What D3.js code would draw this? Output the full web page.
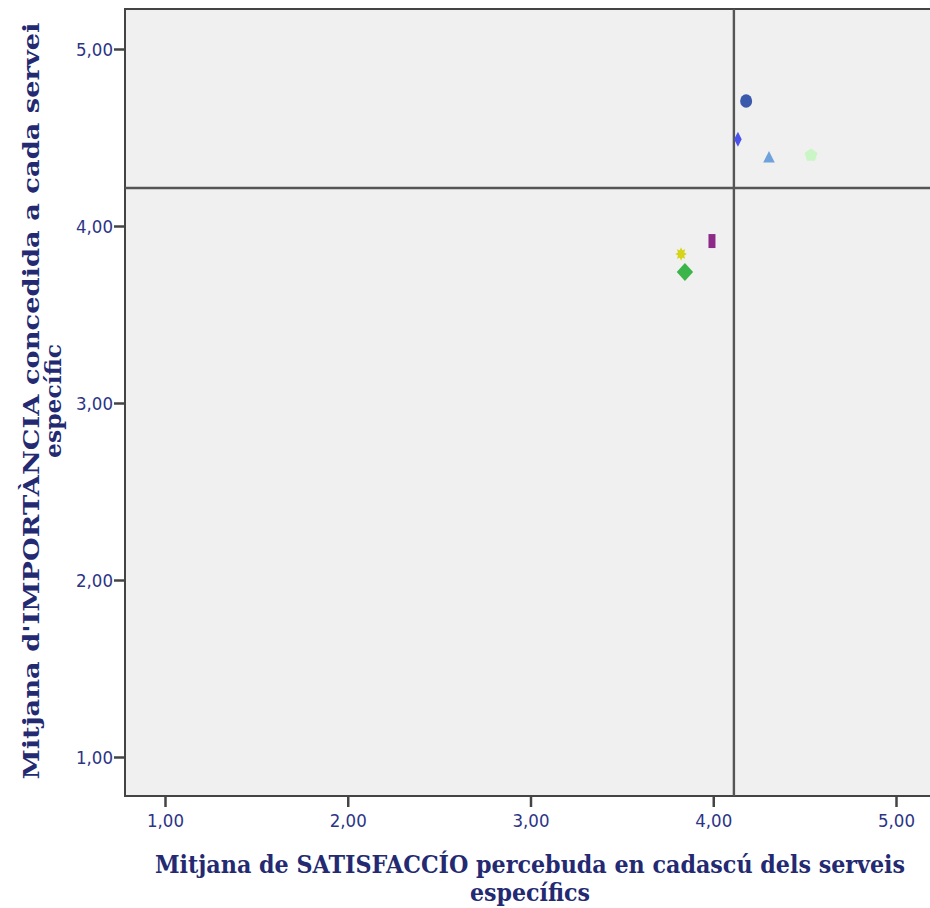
<!DOCTYPE html>
<html>
<head>
<meta charset="utf-8">
<script src="https://cdn.jsdelivr.net/npm/d3@7"></script>
<style>
  html, body { margin: 0; padding: 0; background: #fff; }
  svg { display: block; }
</style>
</head>
<body>
<svg id="chart" width="930" height="908"></svg>
<script>
// Services: mean satisfaction (x) vs mean importance (y)
const services = ["s1", "s2", "s3", "s4", "s5", "s6", "s7"];
const satisfaction = [4.18, 4.135, 4.305, 4.535, 3.993, 3.824, 3.845];
const importance = [4.706, 4.49, 4.39, 4.40, 3.915, 3.842, 3.74];
const markerShapes = ["circle", "thinDiamond", "triangle", "pentagon", "rect", "star", "diamond"];
const markerColors = ["#3a58ac", "#4b52ea", "#6fa1da", "#c9f6c4", "#8d2a88", "#d6d41a", "#3bb54a"];

// Reference lines (overall means)
const meanSatisfaction = 4.113;
const meanImportance = 4.215;

const xTicks = [1, 2, 3, 4, 5];
const yTicks = [1, 2, 3, 4, 5];

const svg = d3.select("#chart");
const plot = { left: 125, top: 9, right: 940, bottom: 796 };

const x = d3.scaleLinear().domain([1, 5]).range([165, 896]);
const y = d3.scaleLinear().domain([1, 5]).range([757, 49]);

const fmt = d => d.toFixed(2).replace(".", ",");

// plot background
svg.append("rect")
  .attr("x", plot.left).attr("y", plot.top)
  .attr("width", plot.right - plot.left).attr("height", plot.bottom - plot.top)
  .attr("fill", "#f0f0f0")
  .attr("stroke", "#444").attr("stroke-width", 2);

// axes
const xAxis = svg.append("g")
  .attr("transform", `translate(0,${plot.bottom})`)
  .call(d3.axisBottom(x).tickValues(xTicks).tickFormat(fmt).tickSize(11).tickSizeOuter(0));
const yAxis = svg.append("g")
  .attr("transform", `translate(${plot.left},0)`)
  .call(d3.axisLeft(y).tickValues(yTicks).tickFormat(fmt).tickSize(11).tickSizeOuter(0));

[xAxis, yAxis].forEach(a => {
  a.select(".domain").remove();
  a.selectAll(".tick line").attr("stroke", "#444").attr("stroke-width", 2.5);
  a.selectAll(".tick text")
    .attr("fill", "#2b3486")
    .style("font-family", "'DejaVu Sans', Verdana, sans-serif")
    .style("font-size", "17px")
    .attr("textLength", 37)
    .attr("lengthAdjust", "spacingAndGlyphs");
});
xAxis.selectAll(".tick text").attr("y", 0).attr("dy", 0).attr("transform", "translate(0,31)");
yAxis.selectAll(".tick text").attr("x", -12).attr("dy", "0.36em");

// reference lines
svg.append("line")
  .attr("x1", x(meanSatisfaction)).attr("x2", x(meanSatisfaction))
  .attr("y1", plot.top).attr("y2", plot.bottom)
  .attr("stroke", "#555").attr("stroke-width", 2.4);
svg.append("line")
  .attr("x1", plot.left).attr("x2", plot.right)
  .attr("y1", y(meanImportance)).attr("y2", y(meanImportance))
  .attr("stroke", "#555").attr("stroke-width", 2.4);

// markers
function markerPath(shape) {
  switch (shape) {
    case "circle": {
      const rx = 6, ry = 6.8;
      return `M${-rx},0A${rx},${ry} 0 1,0 ${rx},0A${rx},${ry} 0 1,0 ${-rx},0Z`;
    }
    case "triangle": return "M0,-6L5.8,5.5L-5.8,5.5Z";
    case "pentagon": {
      const r = 6.8, pts = [];
      for (let i = 0; i < 5; i++) {
        const a = -Math.PI / 2 + i * 2 * Math.PI / 5;
        pts.push([r * Math.cos(a), r * Math.sin(a)]);
      }
      return "M" + pts.map(p => p.join(",")).join("L") + "Z";
    }
    case "thinDiamond": return "M0,-7.5L3.8,0L0,7.5L-3.8,0Z";
    case "diamond": return "M0,-9L8.2,0L0,9L-8.2,0Z";
    case "rect": return "M-3.5,-7H3.5V7H-3.5Z";
    case "star": {
      const pts = [];
      for (let i = 0; i < 16; i++) {
        const a = -Math.PI / 2 + i * Math.PI / 8;
        const r = i % 2 === 0 ? 6.8 : 4;
        pts.push([r * Math.cos(a) * 0.85, r * Math.sin(a)]);
      }
      return "M" + pts.map(p => p.join(",")).join("L") + "Z";
    }
  }
}

svg.append("g").selectAll("path")
  .data(services.map((s, i) => ({ s, x: satisfaction[i], y: importance[i], shape: markerShapes[i], color: markerColors[i] })))
  .join("path")
  .attr("transform", d => `translate(${x(d.x)},${y(d.y)})`)
  .attr("d", d => markerPath(d.shape))
  .attr("fill", d => d.color);

// axis titles
const titleStyle = (sel, size) => sel
  .attr("fill", "#232a72")
  .style("font-family", "'DejaVu Serif', 'Liberation Serif', serif")
  .style("font-weight", "bold")
  .style("font-size", size + "px")
  .attr("text-anchor", "middle");

// x title: slightly taller glyphs via a vertical scale
svg.append("g").attr("transform", "translate(530,873) scale(1,1.13)")
  .append("text").call(titleStyle, 22)
  .attr("x", 0).attr("y", 0)
  .attr("textLength", 750).attr("lengthAdjust", "spacingAndGlyphs")
  .text("Mitjana de SATISFACCÍO percebuda en cadascú dels serveis");
svg.append("g").attr("transform", "translate(530,901) scale(1,1.13)")
  .append("text").call(titleStyle, 22)
  .attr("x", 0).attr("y", 0)
  .attr("textLength", 120).attr("lengthAdjust", "spacingAndGlyphs")
  .text("específics");

const yt = svg.append("g").attr("transform", "translate(0,401) rotate(-90)");
yt.append("text").call(titleStyle, 22)
  .attr("x", 0).attr("y", 39)
  .attr("textLength", 757).attr("lengthAdjust", "spacingAndGlyphs")
  .text("Mitjana d'IMPORTÀNCIA concedida a cada servei");
yt.append("text").call(titleStyle, 22)
  .attr("x", 0).attr("y", 61)
  .attr("textLength", 114).attr("lengthAdjust", "spacingAndGlyphs")
  .text("específic");
</script>
</body>
</html>
